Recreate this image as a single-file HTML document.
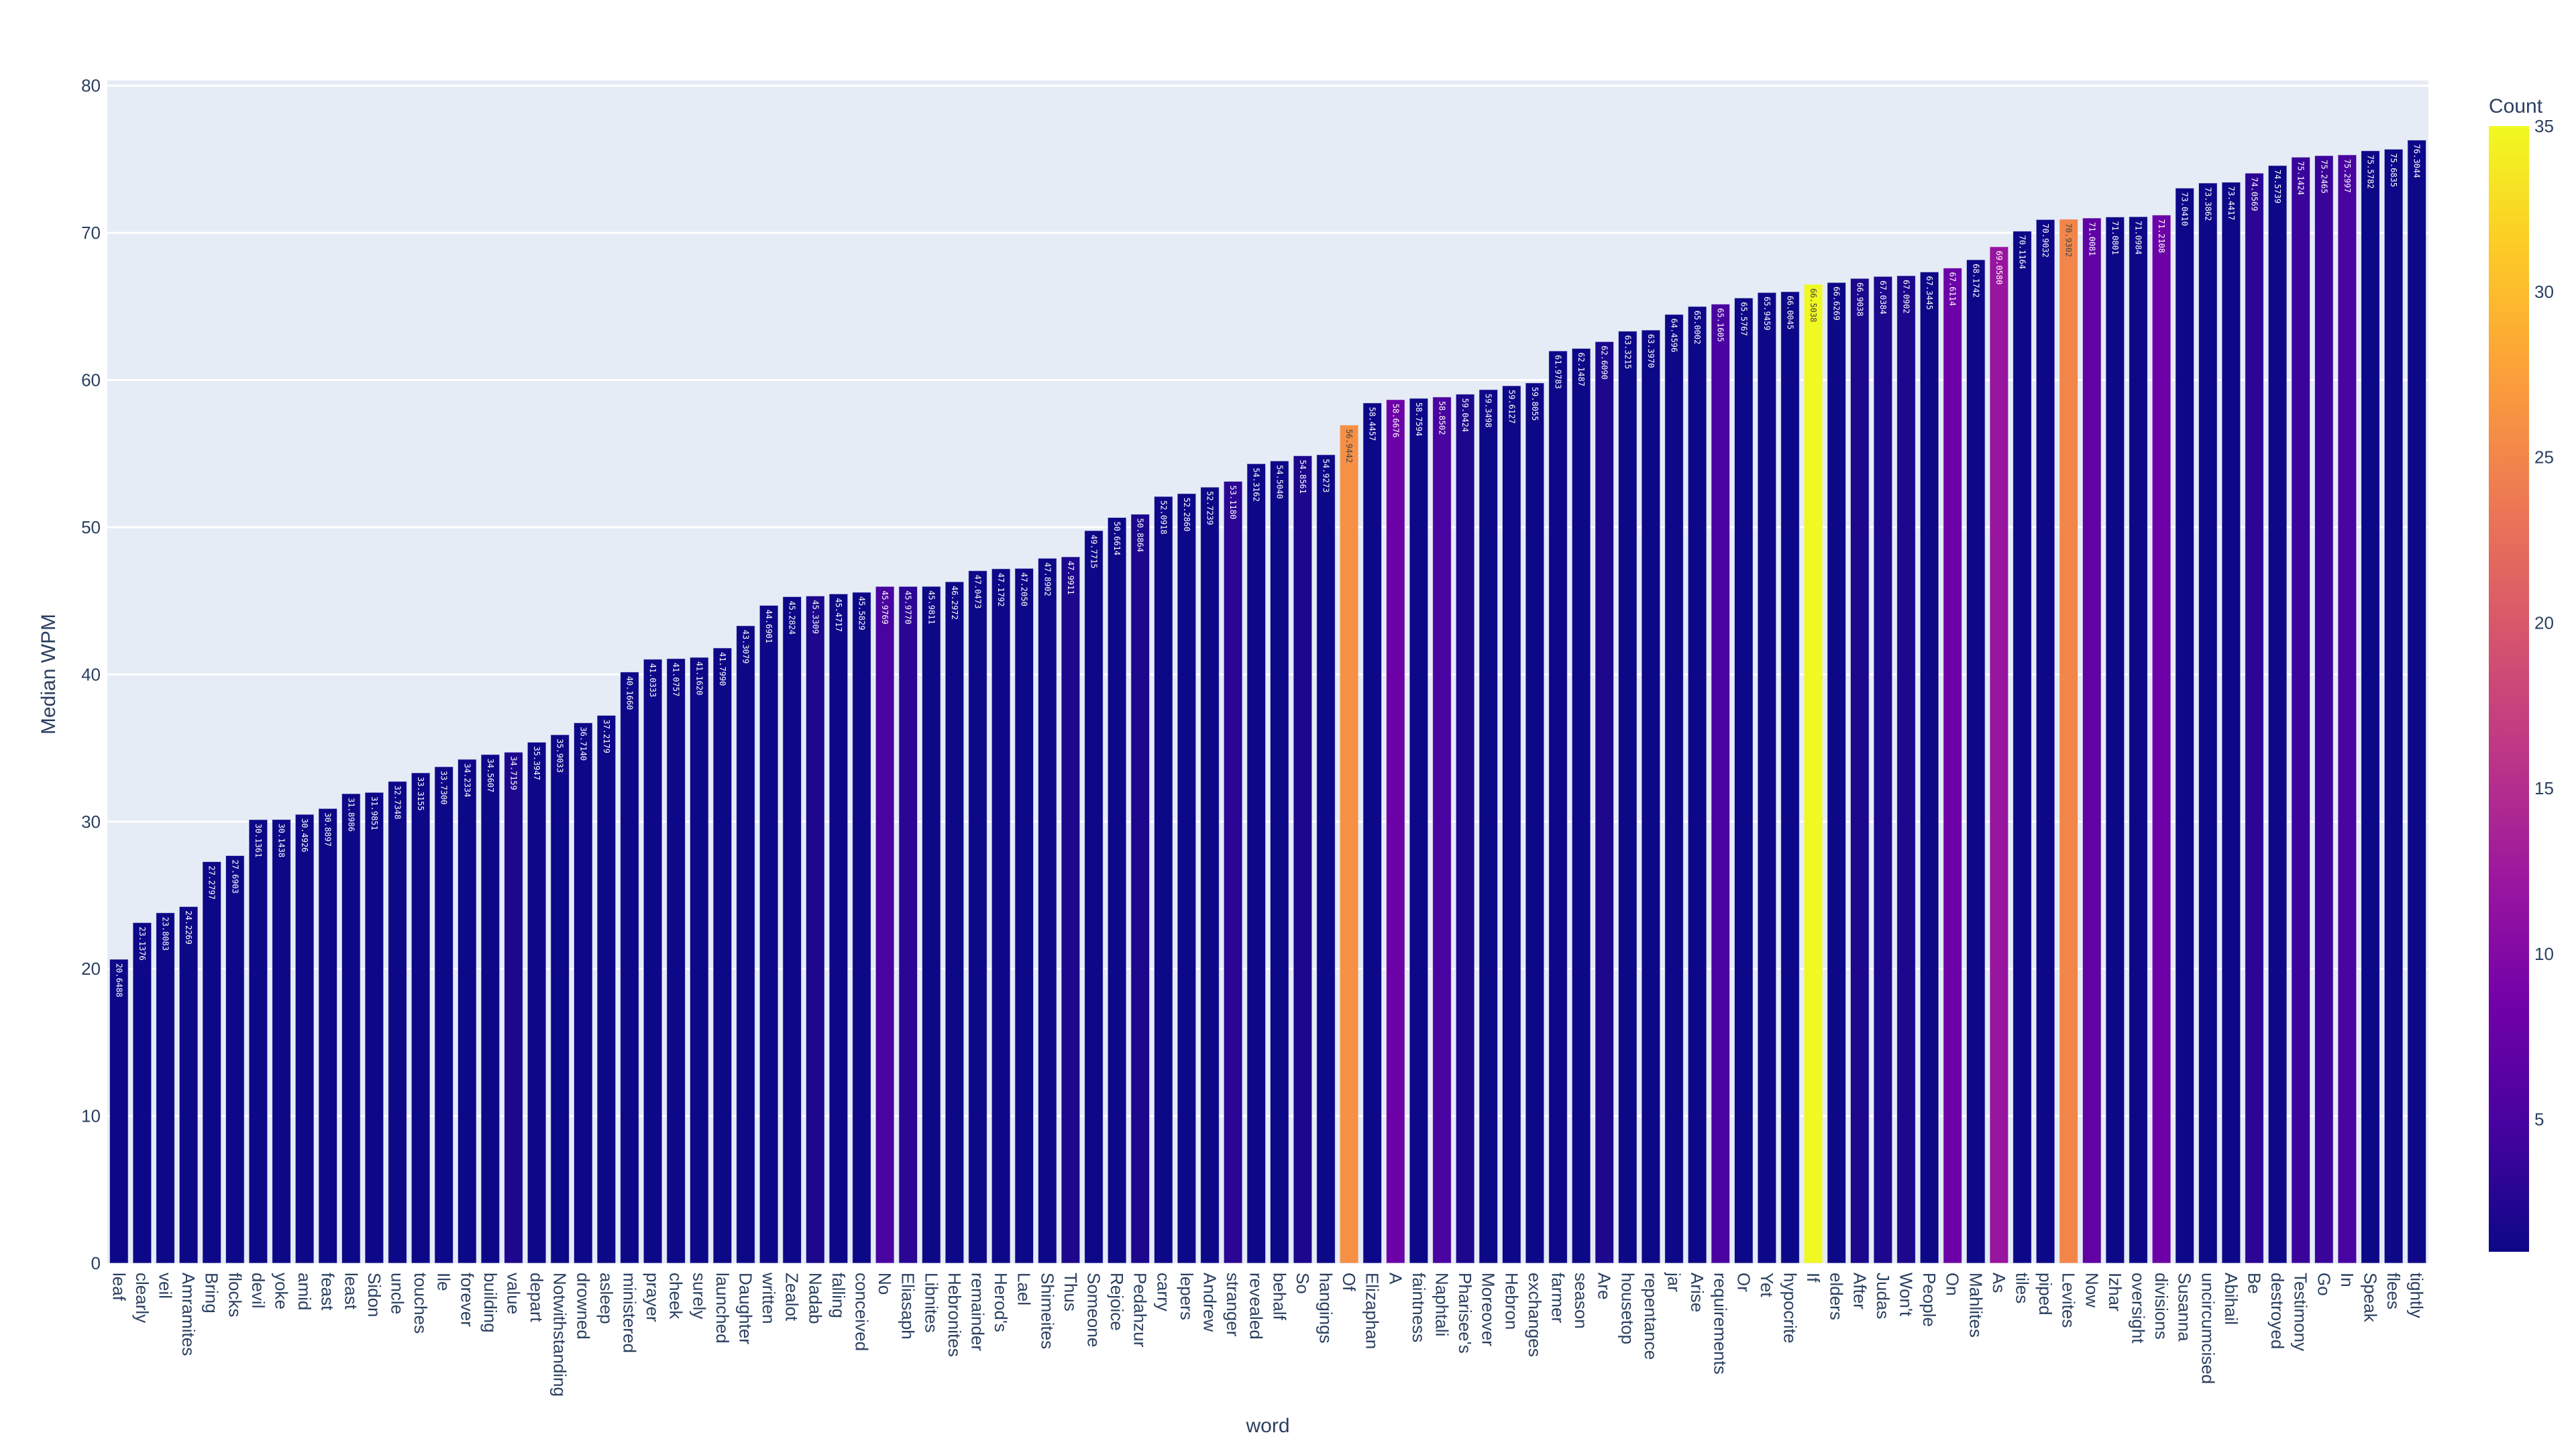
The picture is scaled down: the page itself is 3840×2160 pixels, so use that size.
<!DOCTYPE html>
<html><head><meta charset="utf-8"><style>
html,body{margin:0;padding:0;background:#fff;}
svg{display:block;font-family:"Liberation Sans","DejaVu Sans",sans-serif;}
</style></head><body>
<svg id="chart" width="3840" height="2160" viewBox="0 0 3840 2160" xmlns="http://www.w3.org/2000/svg">
<defs>
<linearGradient id="plasma" x1="0" y1="1" x2="0" y2="0">
<stop offset="0" stop-color="#0d0887"/><stop offset="0.111" stop-color="#46039f"/><stop offset="0.222" stop-color="#7201a8"/><stop offset="0.333" stop-color="#9c179e"/><stop offset="0.444" stop-color="#bd3786"/><stop offset="0.556" stop-color="#d8576b"/><stop offset="0.667" stop-color="#ed7953"/><stop offset="0.778" stop-color="#fb9f3a"/><stop offset="0.889" stop-color="#fdca26"/><stop offset="1" stop-color="#f0f921"/>
</linearGradient>
</defs>
<rect x="160" y="120" width="3460" height="1763" fill="#e5ecf6"/>
<g id="grid"></g>
<g id="bars"></g>
<g id="yticks"></g>
<g id="xticks"></g>
<text x="0" y="0" transform="translate(82,1005) rotate(-90)" text-anchor="middle" font-size="30" fill="#2a3f5f">Median WPM</text>
<text x="1890" y="2135" text-anchor="middle" font-size="30" fill="#2a3f5f">word</text>
<g>
<text x="3710" y="168" font-size="30" fill="#2a3f5f">Count</text>
<rect x="3710" y="188" width="60" height="1678" fill="url(#plasma)"/>
<g id="cbticks"></g>
</g>
</svg>
<script>
const words = ["leaf","clearly","veil","Amramites","Bring","flocks","devil","yoke","amid","feast","least","Sidon","uncle","touches","Ile","forever","building","value","depart","Notwithstanding","drowned","asleep","ministered","prayer","cheek","surely","launched","Daughter","written","Zealot","Nadab","falling","conceived","No","Eliasaph","Libnites","Hebronites","remainder","Herod's","Lael","Shimeites","Thus","Someone","Rejoice","Pedahzur","carry","lepers","Andrew","stranger","revealed","behalf","So","hangings","Of","Elizaphan","A","faintness","Naphtali","Pharisee's","Moreover","Hebron","exchanges","farmer","season","Are","housetop","repentance","jar","Arise","requirements","Or","Yet","hypocrite","If","elders","After","Judas","Won't","People","On","Mahlites","As","tiles","piped","Levites","Now","Izhar","oversight","divisions","Susanna","uncircumcised","Abihail","Be","destroyed","Testimony","Go","In","Speak","flees","tightly"];
const medianWpm = [20.6488,23.1376,23.8083,24.2269,27.2797,27.6903,30.1361,30.1438,30.4926,30.8897,31.8986,31.9851,32.7348,33.3155,33.7300,34.2334,34.5607,34.7159,35.3947,35.9033,36.7140,37.2179,40.1660,41.0333,41.0757,41.1620,41.7990,43.3079,44.6901,45.2824,45.3309,45.4717,45.5829,45.9769,45.9770,45.9811,46.2972,47.0473,47.1792,47.2050,47.8902,47.9911,49.7715,50.6614,50.8864,52.0918,52.2860,52.7239,53.1180,54.3162,54.5040,54.8561,54.9273,56.9442,58.4457,58.6676,58.7594,58.8502,59.0424,59.3498,59.6127,59.8055,61.9783,62.1487,62.6090,63.3215,63.3970,64.4596,65.0002,65.1605,65.5767,65.9459,66.0045,66.5038,66.6269,66.9038,67.0384,67.0902,67.3445,67.6114,68.1742,69.0580,70.1164,70.9032,70.9302,71.0081,71.0801,71.0984,71.2108,73.0410,73.3862,73.4417,74.0569,74.5739,75.1424,75.2465,75.2997,75.5782,75.6835,76.3044];
const counts = [1,1,1,1,1,1,1,1,1,1,1,1,1,1,1,1,1,2,1,1,1,1,1,1,1,1,1,1,1,1,2,1,1,5,3,1,1,1,1,1,1,2,1,1,2,1,1,1,3,1,1,2,1,26,1,8,1,5,2,1,1,1,1,1,2,1,1,1,1,5,1,1,1,35,1,2,2,2,1,8,1,12,1,1,25,7,1,1,8,1,1,1,3,1,4,4,5,1,1,1];
const yTicks = [0,10,20,30,40,50,60,70,80];
const cbTicks = [5,10,15,20,25,30,35];

const NS = "http://www.w3.org/2000/svg";
const PL = 160, PR = 3620, PT = 120, PB = 1883;
const Y0 = 1883, Y80 = 127.7;
function yScale(v){ return Y0 - (v/80)*(Y0-Y80); }
const step = (PR-PL)/words.length;
function xScale(i){ return PL + step*(i+0.5); }
const CMIN = 1, CMAX = 35, CB_TOP = 188, CB_BOT = 1866;
function cbScale(c){ return CB_BOT - (c-CMIN)/(CMAX-CMIN)*(CB_BOT-CB_TOP); }
const stops = [[13,8,135],[70,3,159],[114,1,168],[156,23,158],[189,55,134],[216,87,107],[237,121,83],[251,159,58],[253,202,38],[240,249,33]];
function plasma(c){
  let t = Math.max(0,Math.min(1,(c-CMIN)/(CMAX-CMIN)))*(stops.length-1);
  let i = Math.min(Math.floor(t), stops.length-2), f = t-i;
  const a=stops[i], b=stops[i+1];
  return "rgb("+a.map((v,k)=>Math.round(v+(b[k]-v)*f)).join(",")+")";
}
function mk(tag, attrs, parent){
  const el = document.createElementNS(NS, tag);
  for (const k in attrs) el.setAttribute(k, attrs[k]);
  parent.appendChild(el);
  return el;
}
const grid = document.getElementById("grid");
const yt = document.getElementById("yticks");
yTicks.forEach(v=>{
  if (v>0){
    const l = mk("line",{x1:PL,x2:PR,y1:yScale(v),y2:yScale(v),stroke:"#ffffff","stroke-width":3},grid);
    
    
  }
  const t = mk("text",{x:150,y:yScale(v)+9,"text-anchor":"end","font-size":26,fill:"#2a3f5f"},yt);
  t.textContent = v;
  
  
});
const bars = document.getElementById("bars");
const xt = document.getElementById("xticks");
const bw = step*0.8;
words.forEach((w,i)=>{
  const v = medianWpm[i], cx = xScale(i), top = yScale(v);
  const r = mk("rect",{x:cx-bw/2,y:top,width:bw,height:Y0-top,fill:plasma(counts[i]),stroke:"rgba(229,236,246,0.7)","stroke-width":1},bars);
  
  
  const light = counts[i] > 20;
  const vt = mk("text",{x:0,y:0,transform:"translate("+(cx-4)+","+(top+6)+") rotate(90)","font-size":12,"font-family":"DejaVu Sans Mono, Liberation Mono, monospace",fill:light?"#444":"#fff"},bars);
  vt.textContent = v.toFixed(4);
  
  
  const lt = mk("text",{x:0,y:0,transform:"translate("+(cx-9)+","+(PB+14)+") rotate(90)","font-size":26,fill:"#2a3f5f"},xt);
  lt.textContent = w;
  
  
});
const cbt = document.getElementById("cbticks");
cbTicks.forEach(c=>{
  const t = mk("text",{x:3778,y:cbScale(c)+9,"font-size":26,fill:"#2a3f5f"},cbt);
  t.textContent = c;
  
  
});
</script>
</body></html>
